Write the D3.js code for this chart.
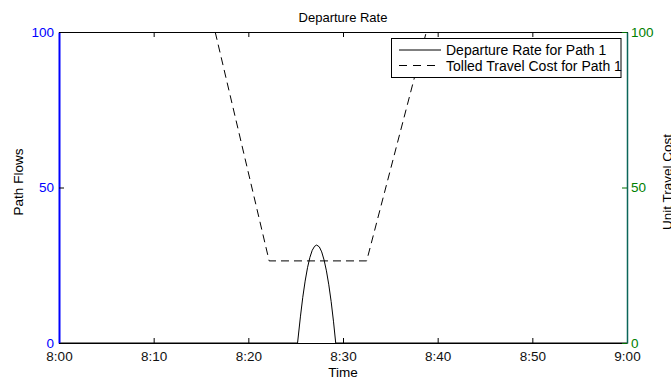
<!DOCTYPE html>
<html>
<head>
<meta charset="utf-8">
<title>Departure Rate</title>
<script src="https://cdn.jsdelivr.net/npm/d3@7"></script>
<style>
  body { margin: 0; background: #fff; }
  svg { font-family: "Liberation Sans", Arial, Helvetica, sans-serif; }
</style>
</head>
<body>
<script>
// time in minutes after 8:00
var xTicks = [0, 10, 20, 30, 40, 50, 60];
var xTickLabels = ["8:00", "8:10", "8:20", "8:30", "8:40", "8:50", "9:00"];
var yTicks = [0, 50, 100];

// departure rate for path 1 (left axis)
var rateTime = [0, 25.2, 25.5, 25.75, 26.0, 26.25, 26.5, 26.75, 27.0, 27.22, 27.5, 27.75, 28.0, 28.25, 28.5, 28.75, 29.0, 29.23, 60];
var rateValue = [0, 0, 8.4, 14.7, 19.9, 24.2, 27.5, 29.8, 31.1, 31.5, 30.9, 29.3, 26.7, 23.2, 18.7, 13.3, 6.8, 0, 0];

// tolled travel cost for path 1 (right axis)
var costTime = [16.5, 22.2, 32.5, 38.8];
var costValue = [100, 26.4, 26.4, 100];

var width = 671, height = 381;
var mLeft = 59, mRight = 627, mTop = 32, mBottom = 343;
var fs = 13.5;

var svg = d3.select("body").append("svg")
    .attr("width", width)
    .attr("height", height);

var x = d3.scaleLinear().domain([0, 60]).range([mLeft, mRight]);
var yL = d3.scaleLinear().domain([0, 100]).range([mBottom, mTop]);
var yR = d3.scaleLinear().domain([0, 100]).range([mBottom, mTop]);

// lines
var rateLine = d3.line()
    .x(function(d, i) { return x(rateTime[i]); })
    .y(function(d) { return yL(d); });
var costLine = d3.line()
    .x(function(d, i) { return x(costTime[i]); })
    .y(function(d) { return yR(d); });

svg.append("path")
    .attr("d", costLine(costValue))
    .attr("fill", "none")
    .attr("stroke", "#000")
    .attr("stroke-width", 1)
    .attr("stroke-dasharray", "8,5");

svg.append("path")
    .attr("d", rateLine(rateValue))
    .attr("fill", "none")
    .attr("stroke", "#000")
    .attr("stroke-width", 1);

// bottom axis
var xAxis = d3.axisBottom(x).tickValues(xTicks)
    .tickFormat(function(d, i) { return xTickLabels[i]; })
    .tickSizeInner(-5).tickSizeOuter(0).tickPadding(8);
var gx = svg.append("g").attr("transform", "translate(0," + mBottom + ")").call(xAxis);
gx.select(".domain").attr("stroke", "#000");
gx.selectAll("text").attr("font-size", fs).attr("fill", "#111");

// top axis (ticks only)
var xTop = d3.axisTop(x).tickValues(xTicks).tickFormat("")
    .tickSizeInner(-5).tickSizeOuter(0);
svg.append("g").attr("transform", "translate(0," + mTop + ")").call(xTop)
    .select(".domain").attr("stroke", "#000");

// left axis
var yAxisL = d3.axisLeft(yL).tickValues(yTicks)
    .tickSizeInner(-5).tickSizeOuter(0).tickPadding(5);
var gl = svg.append("g").attr("transform", "translate(" + mLeft + ",0)").call(yAxisL);
gl.select(".domain").attr("stroke", "#0000ff").attr("stroke-width", 2);
gl.selectAll(".tick line").attr("stroke", "#000");
gl.selectAll("text").attr("font-size", fs).attr("fill", "#0000ff");

// right axis
var yAxisR = d3.axisRight(yR).tickValues(yTicks)
    .tickSizeInner(-5).tickSizeOuter(0).tickPadding(4);
var gr = svg.append("g").attr("transform", "translate(" + mRight + ",0)").call(yAxisR);
gr.select(".domain").attr("stroke", "#0b6659").attr("stroke-width", 1.5);
gr.selectAll(".tick line").attr("stroke", "#007000");
gr.selectAll("text").attr("font-size", fs).attr("fill", "#008000");

// titles
svg.append("text").attr("x", (mLeft + mRight) / 2).attr("y", 22)
    .attr("text-anchor", "middle").attr("font-size", 13).text("Departure Rate");
svg.append("text").attr("x", (mLeft + mRight) / 2).attr("y", 377)
    .attr("text-anchor", "middle").attr("font-size", fs).text("Time");
svg.append("text").attr("transform", "translate(23,182) rotate(-90)")
    .attr("text-anchor", "middle").attr("font-size", fs).text("Path Flows");
svg.append("text").attr("transform", "translate(672,182) rotate(-90)")
    .attr("text-anchor", "middle").attr("font-size", fs).text("Unit Travel Cost");

// legend
var legend = svg.append("g");
legend.append("rect")
    .attr("x", 391.5).attr("y", 38.5).attr("width", 229.5).attr("height", 39)
    .attr("fill", "#fff").attr("stroke", "#000").attr("stroke-width", 1);
var legendItems = [
  {label: "Departure Rate for Path 1", dash: null},
  {label: "Tolled Travel Cost for Path 1", dash: "8,6"}
];
legendItems.forEach(function(item, i) {
  var yy = 50 + i * 15.5;
  legend.append("line")
      .attr("x1", 399).attr("x2", 441).attr("y1", yy).attr("y2", yy)
      .attr("stroke", "#000").attr("stroke-dasharray", item.dash);
  legend.append("text").attr("x", 446).attr("y", yy + 5)
      .attr("font-size", 14).text(item.label);
});
</script>
</body>
</html>
